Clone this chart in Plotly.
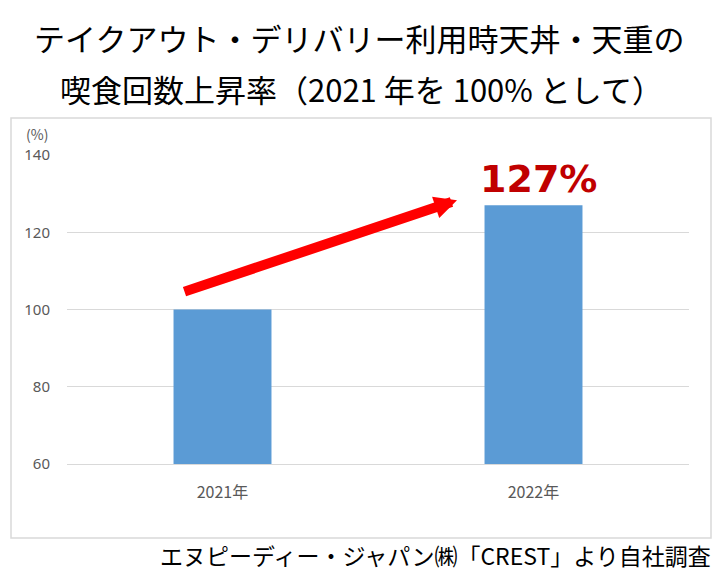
import plotly.graph_objects as go

categories = ["2021年", "2022年"]
values = [100, 127]
y_ticks = [60, 80, 100, 120, 140]
title_lines = ["テイクアウト・デリバリー利用時天丼・天重の", "喫食回数上昇率（2021 年を 100% として）"]
source_text = "エヌピーディー・ジャパン㈱「CREST」より自社調査"
highlight_label = "127%"

W, H = 720, 581
L, R, T, B = 67, 31, 155, 117
pw, ph = W - L - R, H - T - B

def px(xp):
    return (xp - L) / pw

def py(yp):
    return (H - B - yp) / ph

fig = go.Figure()
fig.add_trace(go.Bar(
    x=categories, y=values,
    marker=dict(color="#5B9BD5", line=dict(width=0)),
    width=0.315, hoverinfo="skip",
))

cjk = "Noto Sans CJK JP"
gray = "#595959"

fig.update_layout(
    width=W, height=H,
    margin=dict(l=L, r=R, t=T, b=B),
    paper_bgcolor="white", plot_bgcolor="white",
    showlegend=False,
    xaxis=dict(
        type="category", range=[-0.5, 1.5],
        showgrid=False, showline=True, linecolor="#D9D9D9", linewidth=1,
        ticks="", ticklabelstandoff=14,
        tickfont=dict(family="Noto Sans CJK JP", size=16, color=gray),
    ),
    yaxis=dict(
        range=[60, 140], tickvals=y_ticks,
        showgrid=True, gridcolor="#D9D9D9", gridwidth=1,
        zeroline=False, showline=False, ticks="", ticklabelstandoff=16,
        tickfont=dict(family="Noto Sans", size=15, color=gray),
    ),
)

# chart frame
fig.add_shape(type="rect", xref="paper", yref="paper",
              x0=px(11), x1=px(711), y0=py(538), y1=py(118),
              line=dict(color="#D9D9D9", width=1.5), fillcolor="rgba(0,0,0,0)",
              layer="below")

# unit label
fig.add_annotation(text="(%)", xref="paper", yref="paper", x=px(37), y=py(134),
                   xanchor="center", yanchor="middle",
                   showarrow=False, font=dict(family=cjk, size=14, color=gray))

# titles
fig.add_annotation(text=title_lines[0], xref="paper", yref="paper", x=px(359), y=py(38),
                   xanchor="center", yanchor="middle",
                   showarrow=False, font=dict(family=cjk, size=31, color="black"))
fig.add_annotation(text=title_lines[1], xref="paper", yref="paper", x=px(361), y=py(88),
                   xanchor="center", yanchor="middle",
                   showarrow=False, font=dict(family=cjk, size=31, color="black"))

# source
fig.add_annotation(text=source_text, xref="paper", yref="paper", x=px(713), y=py(555),
                   xanchor="right", yanchor="middle", showarrow=False,
                   font=dict(family=cjk, size=23, color="black"))

# highlight label
fig.add_annotation(text="<b>" + highlight_label + "</b>", x=1, y=values[1], yanchor="bottom",
                   xshift=5, yshift=2, showarrow=False,
                   font=dict(family="DejaVu Sans", size=38, color="#C00000"))

# arrow
fig.add_annotation(x=0.754, y=128.3, ax=-0.127, ay=104.5,
                   xref="x", yref="y", axref="x", ayref="y",
                   text="", showarrow=True, arrowhead=2, arrowsize=0.45,
                   arrowwidth=10, arrowcolor="#FF0000", standoff=0, startstandoff=0)

fig.write_html("out.html", config={"displayModeBar": False},
               post_script="document.body.style.margin='0';")
